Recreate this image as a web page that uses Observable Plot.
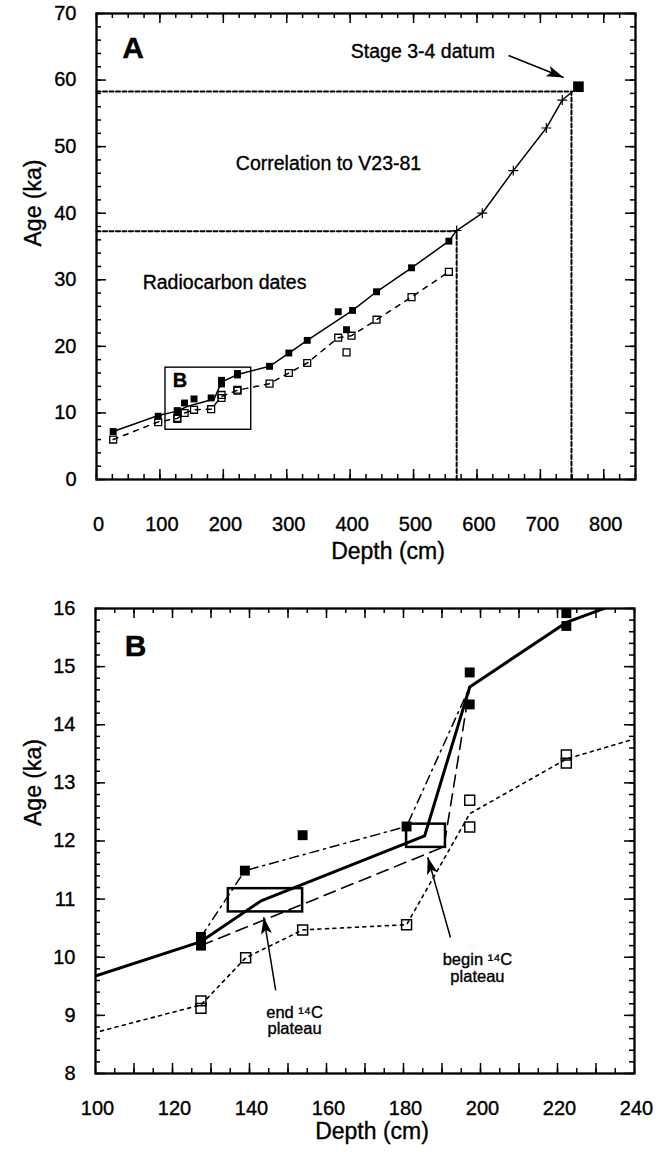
<!DOCTYPE html>
<html><head><meta charset="utf-8">
<script src="https://cdn.jsdelivr.net/npm/d3@7"></script>
<script src="https://cdn.jsdelivr.net/npm/@observablehq/plot@0.6"></script>
<style>
body{margin:0;background:#fff;}
#chart{width:665px;}
#chart svg{display:block;}
#chart svg text{stroke:#000;stroke-width:0.35px;}
</style></head><body><div id="chart"></div>
<script>
// ---------- DATA ----------
// Filled squares: calibrated radiocarbon ages
const calDepth = [26.3, 97.3, 127.4, 127.4, 138.8, 153.8, 180.8, 197.2, 197.2, 222.3, 222.3, 272.9, 303.3, 332.3, 381.2, 394.3, 403.8, 441.6, 496.8, 555.7];
const calAge   = [7.2, 9.5, 10.35, 10.2, 11.49, 12.1, 12.25, 14.9, 14.35, 15.92, 15.7, 17.0, 19.0, 20.9, 25.2, 22.5, 25.4, 28.2, 31.8, 35.8];
// Open squares: raw radiocarbon ages
const rawDepth = [26.3, 97.3, 127.4, 127.4, 139.0, 153.8, 180.8, 197.2, 197.2, 222.3, 222.3, 272.9, 303.3, 332.3, 381.2, 394.3, 402.2, 441.6, 496.8, 555.7];
const rawAge   = [6.0, 8.6, 9.25, 9.12, 9.99, 10.47, 10.56, 12.7, 12.24, 13.48, 13.34, 14.4, 16.0, 17.5, 21.3, 19.1, 21.6, 24.0, 27.4, 31.2];
// Dotted line through the raw ages
const rawLineDepth = [26.3, 97.3, 127.4, 139.0, 153.8, 180.8, 197.2, 222.3, 272.9, 303.3, 332.3, 381.2, 402.2, 441.6, 496.8, 555.7];
const rawLineAge   = [6.0, 8.66, 9.18, 9.99, 10.47, 10.56, 12.47, 13.41, 14.4, 16.0, 17.5, 21.3, 21.6, 24.0, 27.4, 31.2];
// Solid line: age model
const modelDepth = [26.3, 97.3, 127.4, 143.0, 185.5, 197.2, 222.3, 272.9, 303.3, 332.3, 403.8, 441.6, 496.8, 555.7, 568.0, 608.4, 657.3, 709.3, 734.5, 760.0];
const modelAge   = [7.2, 9.62, 10.27, 10.97, 12.09, 14.65, 15.76, 17.0, 19.0, 20.9, 25.4, 28.2, 31.8, 35.8, 37.4, 40.0, 46.4, 52.8, 57.0, 59.0];
// Correlation to V23-81 (+ markers)
const corrDepth = [568.0, 608.4, 657.3, 709.3, 734.5];
const corrAge   = [37.4, 40.0, 46.4, 52.8, 57.0];
// Stage 3-4 datum
const datumDepth = [760.0];
const datumAge   = [59.0];
// Dashed guide lines (corner depth / age)
const guideDepth = [568.0, 749.0];
const guideAge   = [37.3, 58.3];
// Zoom box B drawn in panel A
const boxBDepth = [108.8, 244.0];
const boxBAge   = [7.47, 16.8];
// Panel B: dash-dot (upper) and long-dash (lower) bounds
const upperDepth = [127.4, 138.8, 180.8, 197.2];
const upperAge   = [10.35, 11.49, 12.25, 14.65];
const lowerDepth = [127.4, 190.5, 197.2];
const lowerAge   = [10.2, 11.9, 14.65];
// Panel B: plateau boxes
const plateauDepth1 = [134.5, 180.8];
const plateauDepth2 = [153.8, 190.9];
const plateauAge1   = [10.78, 11.89];
const plateauAge2   = [11.18, 12.29];

// Tick values
const xTicksA = [0, 100, 200, 300, 400, 500, 600, 700, 800];
const yTicksA = [0, 10, 20, 30, 40, 50, 60, 70];
const xLabelsB = [100, 120, 140, 160, 180, 200, 220, 240];
const xMajorB = [110, 120, 130, 140, 150, 160, 170, 180, 190, 200, 210, 220, 230];
const yTicksB = [8, 9, 10, 11, 12, 13, 14, 15, 16];

// Annotations (data coordinates)
const annTextA  = ["Stage 3-4 datum", "Correlation to V23-81", "Radiocarbon dates"];
const annDepthA = [514.8, 365.9, 201.9];
const annAgeA   = [64.2, 47.5, 29.5];
const arrowA = {x1: [649.8], y1: [63.7], x2: [736.6], y2: [60.4]};
const noteTextB  = ["end \u00B9\u2074C\nplateau", "begin \u00B9\u2074C\nplateau"];
const noteDepthB = [151.7, 199.2];
const noteAgeB   = [8.91, 9.82];
const arrowB = {x1: [146.8, 192.2], y1: [9.43, 10.34], x2: [143.7, 186.3], y2: [10.69, 11.72]};

// ---------- HELPERS ----------
const FONT = "'Liberation Sans', Arial, Helvetica, sans-serif";
const idx = (a) => a.map((_, i) => i);

function arrowHead(color) {
  const ns = "http://www.w3.org/2000/svg";
  const m = document.createElementNS(ns, "marker");
  m.setAttribute("viewBox", "-17 -6 17 12");
  m.setAttribute("markerWidth", 17);
  m.setAttribute("markerHeight", 12);
  m.setAttribute("markerUnits", "userSpaceOnUse");
  m.setAttribute("orient", "auto");
  m.setAttribute("refX", 0);
  m.setAttribute("refY", 0);
  const p = document.createElementNS(ns, "path");
  p.setAttribute("d", "M-17,-5.5L0,0L-17,5.5L-13,0Z");
  p.setAttribute("fill", "black");
  p.setAttribute("stroke", "none");
  m.appendChild(p);
  return m;
}

function frameTicks(xMaj, xMin, yMaj, yMin, iw, ih, maj, mnr) {
  const o = {stroke: "black", strokeWidth: 1.5};
  return [
    Plot.tickX(xMaj, {x: d => d, insetTop: ih - maj, ...o}),
    Plot.tickX(xMaj, {x: d => d, insetBottom: ih - maj, ...o}),
    Plot.tickX(xMin, {x: d => d, insetTop: ih - mnr, ...o}),
    Plot.tickX(xMin, {x: d => d, insetBottom: ih - mnr, ...o}),
    Plot.tickY(yMaj, {y: d => d, insetRight: iw - maj, ...o}),
    Plot.tickY(yMaj, {y: d => d, insetLeft: iw - maj, ...o}),
    Plot.tickY(yMin, {y: d => d, insetRight: iw - mnr, ...o}),
    Plot.tickY(yMin, {y: d => d, insetLeft: iw - mnr, ...o})
  ];
}

// ---------- PANEL A ----------
const A = {w: 665, h: 580, mt: 13, ml: 96, mr: 30, mb: 101};
const iwA = A.w - A.ml - A.mr, ihA = A.h - A.mt - A.mb;
const guideLines = guideDepth.map((d, i) => [[0, guideAge[i]], [d, guideAge[i]], [d, 0]]);

const plotA = Plot.plot({
  width: A.w, height: A.h,
  marginTop: A.mt, marginLeft: A.ml, marginRight: A.mr, marginBottom: A.mb,
  x: {domain: [0, 850]},
  y: {domain: [0, 70]},
  style: {fontFamily: FONT, background: "white", color: "black"},
  marks: [
    ...guideLines.map(g => Plot.line(g, {x: d => d[0], y: d => d[1], stroke: "black", strokeWidth: 2, strokeDasharray: "4,2.5"})),
    Plot.line(idx(rawLineDepth), {x: i => rawLineDepth[i], y: i => rawLineAge[i], stroke: "black", strokeWidth: 1.5, strokeDasharray: "5,6"}),
    Plot.line(idx(modelDepth), {x: i => modelDepth[i], y: i => modelAge[i], stroke: "black", strokeWidth: 1.5}),
    Plot.rect([0], {x1: boxBDepth[0], x2: boxBDepth[1], y1: boxBAge[0], y2: boxBAge[1], fill: "none", stroke: "black", strokeWidth: 1.4}),
    Plot.dot(idx(rawDepth), {x: i => rawDepth[i], y: i => rawAge[i], symbol: "square", r: 3.9, fill: "white", fillOpacity: 0, stroke: "black", strokeWidth: 1.3}),
    Plot.dot(idx(calDepth), {x: i => calDepth[i], y: i => calAge[i], symbol: "square", r: 3.9, fill: "black"}),
    Plot.dot(idx(corrDepth), {x: i => corrDepth[i], y: i => corrAge[i], symbol: "plus", r: 3.3, stroke: "black", strokeWidth: 1.2}),
    Plot.dot(idx(datumDepth), {x: i => datumDepth[i], y: i => datumAge[i], symbol: "square", r: 6.0, fill: "black"}),
    Plot.link([0], {x1: arrowA.x1, y1: arrowA.y1, x2: arrowA.x2, y2: arrowA.y2, stroke: "black", strokeWidth: 1.6, markerEnd: arrowHead}),
    Plot.text(annTextA, {x: annDepthA, y: annAgeA, fontSize: 19.5, fill: "black"}),
    Plot.text(["A"], {x: [57.6], y: [64.7], fontSize: 30, fontWeight: "bold", fill: "black"}),
    Plot.text(["B"], {x: [131.7], y: [14.8], fontSize: 20, fontWeight: "bold", fill: "black"}),
    ...frameTicks(xTicksA, d3.range(0, 851, 25), yTicksA, d3.range(0, 71, 2), iwA, ihA, 10, 5),
    Plot.frame({stroke: "black", strokeWidth: 2.3}),
    Plot.axisX({ticks: xTicksA, tickSize: 0, tickPadding: 37, label: null, fontSize: 20, dx: 2}),
    Plot.axisY({ticks: yTicksA, tickSize: 0, tickPadding: 20, label: null, fontSize: 20}),
    Plot.text(["Depth (cm)"], {frameAnchor: "bottom", dx: 22, dy: 79, fontSize: 23, fill: "black"}),
    Plot.text(["Age (ka)"], {frameAnchor: "left", dx: -63, rotate: -90, fontSize: 23, fill: "black"})
  ]
});

// ---------- PANEL B ----------
const B = {w: 665, h: 572, mt: 28, ml: 95, mr: 31, mb: 79};
const iwB = B.w - B.ml - B.mr, ihB = B.h - B.mt - B.mb;

const plotB = Plot.plot({
  width: B.w, height: B.h,
  marginTop: B.mt, marginLeft: B.ml, marginRight: B.mr, marginBottom: B.mb,
  x: {domain: [100, 240]},
  y: {domain: [8, 16]},
  style: {fontFamily: FONT, background: "white", color: "black"},
  marks: [
    Plot.line(idx(rawLineDepth), {x: i => rawLineDepth[i], y: i => rawLineAge[i], stroke: "black", strokeWidth: 1.6, strokeDasharray: "3,4.5", clip: true}),
    Plot.line(idx(upperDepth), {x: i => upperDepth[i], y: i => upperAge[i], stroke: "black", strokeWidth: 1.5, strokeDasharray: "9,5,2,5"}),
    Plot.line(idx(lowerDepth), {x: i => lowerDepth[i], y: i => lowerAge[i], stroke: "black", strokeWidth: 1.6, strokeDasharray: "12,7"}),
    Plot.line(idx(modelDepth), {x: i => modelDepth[i], y: i => modelAge[i], stroke: "black", strokeWidth: 3, clip: true}),
    Plot.rect(idx(plateauDepth1), {x1: i => plateauDepth1[i], x2: i => plateauDepth2[i], y1: i => plateauAge1[i], y2: i => plateauAge2[i], fill: "none", stroke: "black", strokeWidth: 2.5}),
    Plot.dot(idx(rawDepth), {x: i => rawDepth[i], y: i => rawAge[i], symbol: "square", r: 5.6, fill: "white", fillOpacity: 0, stroke: "black", strokeWidth: 1.5, clip: true}),
    Plot.dot(idx(calDepth), {x: i => calDepth[i], y: i => calAge[i], symbol: "square", r: 5.6, fill: "black", clip: true}),
    Plot.link(idx(arrowB.x1), {x1: i => arrowB.x1[i], y1: i => arrowB.y1[i], x2: i => arrowB.x2[i], y2: i => arrowB.y2[i], stroke: "black", strokeWidth: 1.5, markerEnd: arrowHead}),
    Plot.text(noteTextB, {x: noteDepthB, y: noteAgeB, fontSize: 16.5, lineHeight: 1.02, fill: "black"}),
    Plot.text(["B"], {x: [110.4], y: [15.34], fontSize: 30, fontWeight: "bold", fill: "black"}),
    ...frameTicks(xMajorB, d3.range(100, 241, 5), d3.range(8, 16.01, 1), d3.range(8, 16.01, 0.2), iwB, ihB, 10, 5),
    Plot.frame({stroke: "black", strokeWidth: 2.3}),
    Plot.axisX({ticks: xLabelsB, tickSize: 0, tickPadding: 27, label: null, fontSize: 20, dx: 2}),
    Plot.axisY({ticks: yTicksB, tickSize: 0, tickPadding: 20, label: null, fontSize: 20}),
    Plot.text(["Depth (cm)"], {frameAnchor: "bottom", dx: 7, dy: 65, fontSize: 23, fill: "black"}),
    Plot.text(["Age (ka)"], {frameAnchor: "left", dx: -62, dy: -15, rotate: -90, fontSize: 23, fill: "black"})
  ]
});

document.getElementById("chart").append(plotA, plotB);
</script>
</body></html>
